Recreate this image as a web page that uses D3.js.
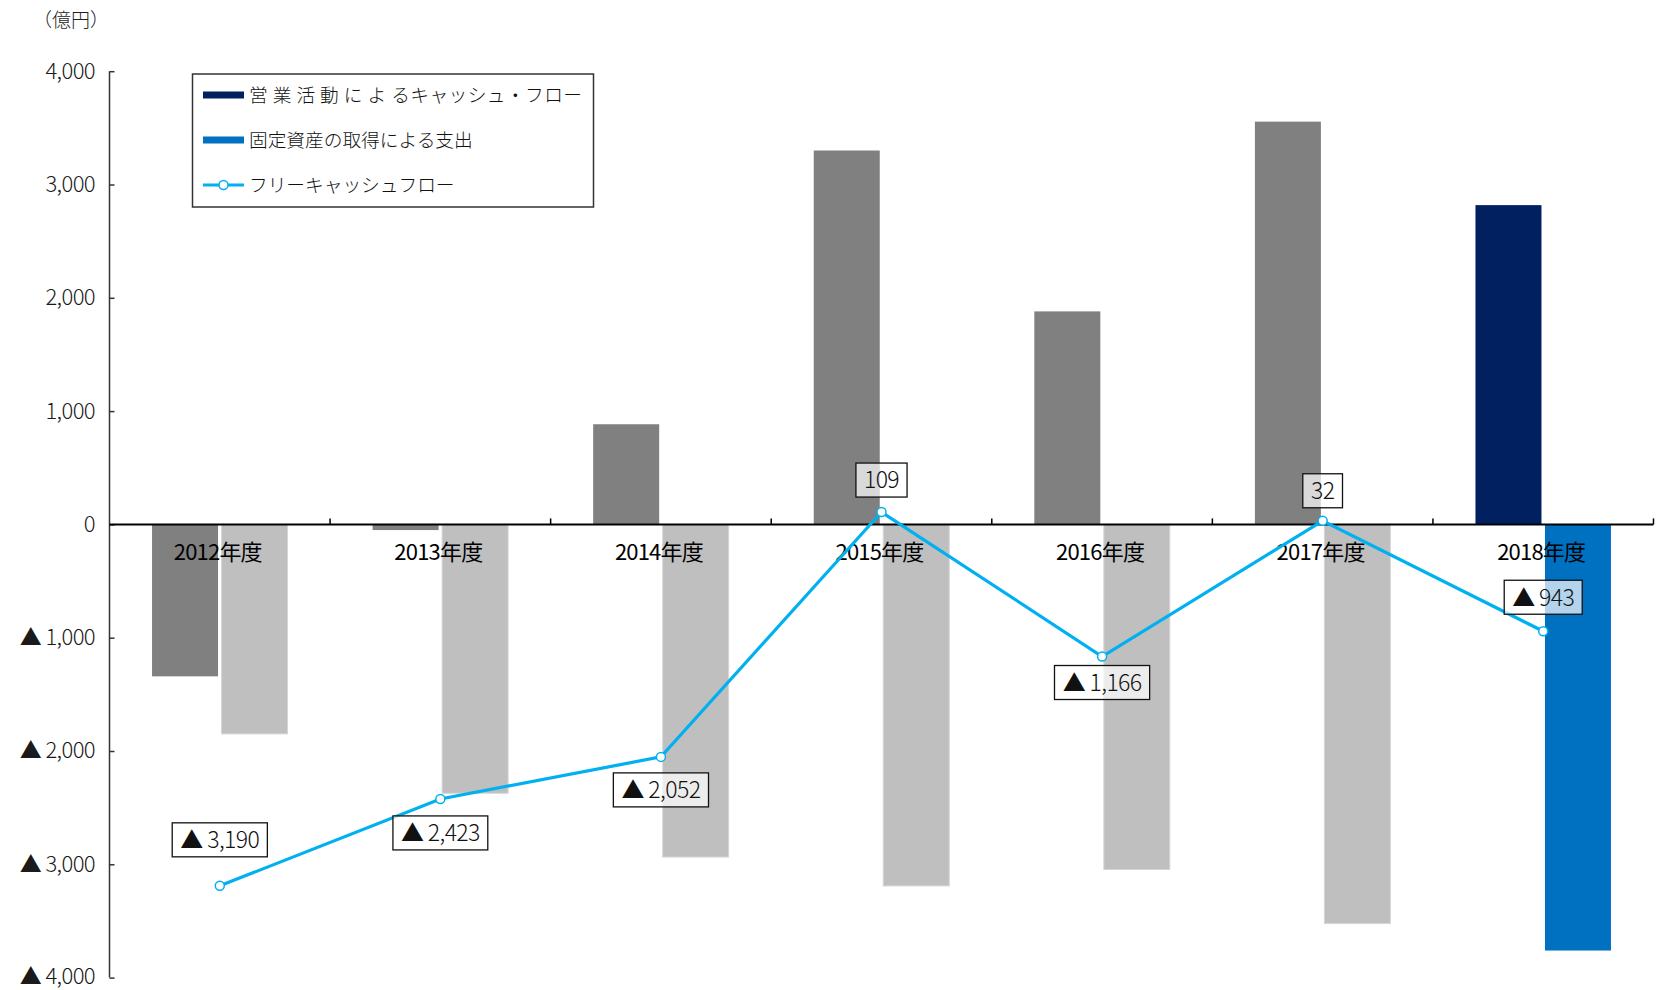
<!DOCTYPE html>
<html><head><meta charset="utf-8">
<script src="https://cdn.jsdelivr.net/npm/d3@7"></script>
<style>
body{margin:0;background:#fff;}
svg{display:block;font-family:"Noto Sans CJK JP","Noto Sans",sans-serif;}
.thin{font-weight:300;}
</style></head>
<body><svg id="c" width="1661" height="990"></svg>
<script>
const categories = ['2012年度','2013年度','2014年度','2015年度','2016年度','2017年度','2018年度'];
const operatingCF = [-1341, -50, 884, 3300, 1880, 3555, 2818];
const capex = [-1849, -2373, -2936, -3191, -3046, -3523, -3761];
const fcf = [-3190, -2423, -2052, 109, -1166, 32, -943];
const yTicks = [4000, 3000, 2000, 1000, 0, -1000, -2000, -3000, -4000];
const labelOffset = [-46, 34, 33, -32, 26, -30, -34];
const seriesNames = ['営 業 活 動 に よ るキャッシュ・フロー','固定資産の取得による支出','フリーキャッシュフロー'];
const unitLabel = '（億円）';

const svg = d3.select('#c');
const x0 = 109.5, x1 = 1653.5;
const x = d3.scaleBand().domain(categories).range([x0, x1]);
const y = d3.scaleLinear().domain([-4000, 4000]).range([977.6, 71.2]);
const fmt = v => v < 0 ? '▲ ' + d3.format(',')(-v) : d3.format(',')(v);
const last = categories.length - 1;
const opColor = (i) => i === last ? '#002060' : '#808080';
const cxColor = (i) => i === last ? '#0070C0' : '#BFBFBF';
const bw = 66, gap = 3.5;
const cx = c => x(c) + x.bandwidth() / 2;

// bars
const g = svg.append('g');
g.selectAll('rect.op').data(operatingCF).join('rect')
  .attr('x', (d,i) => cx(categories[i]) - gap/2 - bw)
  .attr('width', bw)
  .attr('y', d => y(Math.max(0, d)))
  .attr('height', d => Math.abs(y(d) - y(0)))
  .attr('fill', (d,i) => opColor(i));
g.selectAll('rect.cx').data(capex).join('rect')
  .attr('x', (d,i) => cx(categories[i]) + gap/2)
  .attr('width', bw)
  .attr('y', d => y(Math.max(0, d)))
  .attr('height', d => Math.abs(y(d) - y(0)))
  .attr('fill', (d,i) => cxColor(i))
  .attr('stroke', (d,i) => i === last ? 'none' : '#D6D6D6').attr('stroke-width', 1);

// y axis
const yAxis = svg.append('g').attr('transform', `translate(${x0},0)`)
  .call(d3.axisRight(y).tickValues(yTicks).tickSize(5).tickFormat(''));
yAxis.select('.domain').attr('stroke', '#333').attr('stroke-width', 1.5).attr('d', `M0,${y(4000)}V${y(-4000)}`);
yAxis.selectAll('.tick line').attr('stroke', '#333').attr('stroke-width', 1.5);
svg.append('g').selectAll('text').data(yTicks).join('text')
  .attr('class', 'thin')
  .attr('x', 95).attr('y', d => y(d)).attr('dy', d => d === -4000 ? '0.28em' : '0.34em')
  .attr('text-anchor', 'end').attr('font-size', 22).attr('fill', '#1a1a1a')
  .attr('letter-spacing', -0.6)
  .text(fmt);

// x axis (zero line)
const xAxis = svg.append('g').attr('transform', `translate(0,${y(0)})`)
  .call(d3.axisTop(x).tickSize(0).tickFormat(''));
xAxis.select('.domain').attr('stroke', '#000').attr('stroke-width', 2).attr('d', `M${x0},0H${x1}`);
xAxis.selectAll('.tick').remove();
const bounds = categories.map(c => x(c)).concat([x1]);
svg.append('g').selectAll('line').data(bounds.slice(1)).join('line')
  .attr('x1', d => d).attr('x2', d => d).attr('y1', y(0) - 6).attr('y2', y(0))
  .attr('stroke', '#000').attr('stroke-width', 1.5);

// category labels
svg.append('g').selectAll('text').data(categories).join('text')
  .attr('x', d => cx(d) - 2).attr('y', y(0) + 28).attr('dy', '0.36em')
  .attr('text-anchor', 'middle').attr('font-size', 22).attr('fill', '#000')
  .attr('letter-spacing', -0.8)
  .text(d => d);

// FCF line
const line = d3.line().x((d,i) => cx(categories[i])).y(d => y(d));
svg.append('path').datum(fcf).attr('d', line).attr('fill', 'none')
  .attr('stroke', '#00B0F0').attr('stroke-width', 3.2);
svg.append('g').selectAll('circle').data(fcf).join('circle')
  .attr('cx', (d,i) => cx(categories[i])).attr('cy', d => y(d)).attr('r', 4.5)
  .attr('fill', '#fff').attr('stroke', '#00B0F0').attr('stroke-width', 1.5);

// data labels
const lg = svg.append('g');
fcf.forEach((v, i) => {
  const px = cx(categories[i]), py = y(v);
  const cyL = py + labelOffset[i];
  const grp = lg.append('g');
  const t = grp.append('text').attr('class', 'thin').attr('x', px).attr('y', cyL).attr('dy', '0.36em')
    .attr('text-anchor', 'middle').attr('font-size', 23).attr('fill', '#111')
    .attr('letter-spacing', -0.6).text(fmt(v));
  const w = t.node().getBBox().width;
  grp.insert('rect', 'text').attr('x', px - w/2 - 8).attr('y', cyL - 17)
    .attr('width', w + 16).attr('height', 34)
    .attr('fill', 'rgba(255,255,255,0.7)').attr('stroke', '#111').attr('stroke-width', 1.3);
});

// unit label
svg.append('text').attr('class', 'thin').attr('x', 33).attr('y', 20).attr('dy', '0.36em').attr('font-size', 19).attr('fill', '#222').text(unitLabel);

// legend
const leg = svg.append('g');
leg.append('rect').attr('x', 192.5).attr('y', 74).attr('width', 401).attr('height', 133)
  .attr('fill', '#fff').attr('stroke', '#333').attr('stroke-width', 1.5);
const rows = [95, 140, 185];
leg.append('rect').attr('x', 203).attr('y', rows[0] - 3.5).attr('width', 41).attr('height', 7).attr('fill', '#002060');
leg.append('rect').attr('x', 203).attr('y', rows[1] - 3.5).attr('width', 41).attr('height', 7).attr('fill', '#0070C0');
leg.append('line').attr('x1', 203).attr('x2', 244).attr('y1', rows[2]).attr('y2', rows[2]).attr('stroke', '#00B0F0').attr('stroke-width', 3.2);
leg.append('circle').attr('cx', 223.5).attr('cy', rows[2]).attr('r', 4.5).attr('fill', '#fff').attr('stroke', '#00B0F0').attr('stroke-width', 1.5);
leg.selectAll('text').data(seriesNames).join('text')
  .attr('class', 'thin')
  .attr('x', 249).attr('y', (d,i) => rows[i]).attr('dy', '0.36em')
  .attr('font-size', 18.7).attr('fill', '#111').text(d => d)
  .each(function(d, i){ if (i === 0) d3.select(this).attr('textLength', 333).attr('lengthAdjust', 'spacing'); });
</script></body></html>
